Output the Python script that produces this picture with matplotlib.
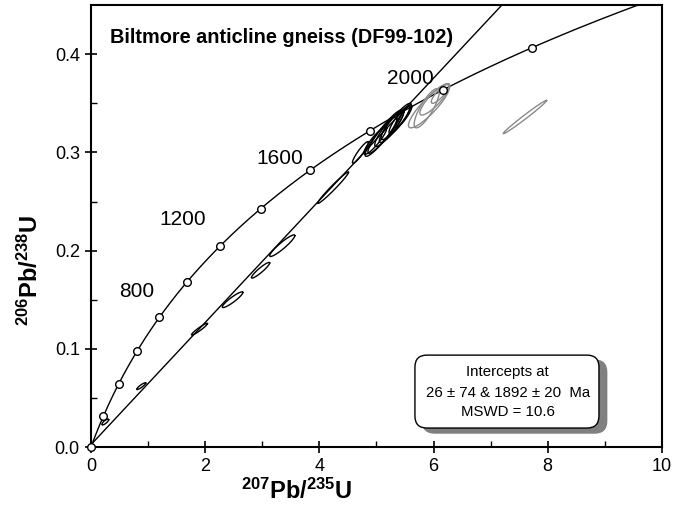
# U-Pb concordia plot, Biltmore anticline gneiss

import numpy as np
import matplotlib
matplotlib.use('Agg')
import matplotlib.pyplot as plt
from matplotlib.patches import FancyBboxPatch

plt.rcParams['font.family'] = ['Liberation Sans', 'DejaVu Sans']
plt.rcParams['mathtext.fontset'] = 'custom'
plt.rcParams['mathtext.rm'] = 'Liberation Sans'
plt.rcParams['mathtext.bf'] = 'Liberation Sans:bold'

#### data ####
# decay constants (1/yr)
lambda_238 = 1.55125e-10
lambda_235 = 9.8485e-10

# concordia age markers (Ma) and the labelled ones
marker_ages = [0, 200, 400, 600, 800, 1000, 1200, 1400, 1600, 1800, 2000, 2200]
label_ages = ['800', '1200', '1600', '2000']
label_x = [0.80, 1.60, 3.30, 5.60]
label_y = [0.158, 0.232, 0.294, 0.375]

# discordia intercepts (Ma)
lower_intercept = 26
upper_intercept = 1892

# black error ellipses: centre x, centre y, sigma x, sigma y, correlation
black_x = [0.25, 0.88, 1.90, 2.48, 2.97, 3.35, 4.24, 4.72, 4.98, 5.08, 5.15, 5.22, 5.28, 5.33, 5.40, 5.48]
black_y = [0.0255, 0.062, 0.120, 0.150, 0.180, 0.205, 0.264, 0.300, 0.312, 0.316, 0.321, 0.324, 0.328, 0.330, 0.333, 0.337]
black_sx = [0.06, 0.08, 0.14, 0.18, 0.16, 0.22, 0.27, 0.14, 0.20, 0.28, 0.30, 0.25, 0.20, 0.28, 0.18, 0.14]
black_sy = [0.003, 0.0035, 0.006, 0.008, 0.008, 0.011, 0.016, 0.011, 0.014, 0.020, 0.022, 0.018, 0.015, 0.020, 0.014, 0.011]
black_rho = [0.8, 0.9, 0.95, 0.92, 0.93, 0.93, 0.98, 0.92, 0.90, 0.92, 0.93, 0.90, 0.88, 0.92, 0.88, 0.88]

# grey error ellipses
grey_x = [5.92, 6.02, 5.88, 6.12, 7.60]
grey_y = [0.347, 0.354, 0.345, 0.360, 0.336]
grey_sx = [0.36, 0.26, 0.22, 0.16, 0.38]
grey_sy = [0.022, 0.016, 0.020, 0.010, 0.017]
grey_rho = [0.88, 0.86, 0.82, 0.85, 0.99]


#### helpers ####
def concordia(age_ma):
    t = np.asarray(age_ma, dtype=float) * 1e6
    return np.exp(lambda_235 * t) - 1, np.exp(lambda_238 * t) - 1


def draw_ellipses(ax, xs, ys, sxs, sys_, rhos, color):
    theta = np.linspace(0, 2 * np.pi, 200)
    for cx, cy, sx, sy, rho in zip(xs, ys, sxs, sys_, rhos):
        ex = cx + sx * np.cos(theta)
        ey = cy + sy * (rho * np.cos(theta) + np.sqrt(1 - rho ** 2) * np.sin(theta))
        ax.plot(ex, ey, color=color, lw=1.0, zorder=3)


#### plot ####
fig = plt.figure(figsize=(6.81, 5.08), dpi=100)
ax = fig.add_axes([0.1336, 0.120, 0.8384, 0.870])

# concordia curve
cx, cy = concordia(np.linspace(0, 2600, 600))
ax.plot(cx, cy, color='black', lw=1.0, zorder=2)

# discordia line
x1, y1 = concordia(lower_intercept)
x2, y2 = concordia(upper_intercept)
slope = (y2 - y1) / (x2 - x1)
dx = np.array([x1, 9.0])
ax.plot(dx, y1 + slope * (dx - x1), color='black', lw=1.0, zorder=2)

# ellipses
draw_ellipses(ax, grey_x, grey_y, grey_sx, grey_sy, grey_rho, '#8a8a8a')
draw_ellipses(ax, black_x, black_y, black_sx, black_sy, black_rho, 'black')

# age markers
mx, my = concordia(marker_ages)
ax.plot(mx, my, 'o', ms=5.5, mfc='white', mec='black', mew=1.0, zorder=5, clip_on=False)

for lab, lx, ly in zip(label_ages, label_x, label_y):
    ax.text(lx, ly, lab, fontsize=15, ha='center', va='center')

# title
ax.text(0.33, 0.417, 'Biltmore anticline gneiss (DF99-102)', fontsize=14.3,
        fontweight='bold', ha='left', va='center')

# intercept box with shadow
ax.add_patch(FancyBboxPatch((0.5674 + 0.0135, 0.043 - 0.0113), 0.3223, 0.165,
                            boxstyle='round,pad=0,rounding_size=0.021', mutation_aspect=1.292,
                            transform=ax.transAxes, fc='#808080', ec='#808080', zorder=6))
ax.add_patch(FancyBboxPatch((0.5674, 0.043), 0.3223, 0.165,
                            boxstyle='round,pad=0,rounding_size=0.021', mutation_aspect=1.292,
                            transform=ax.transAxes, fc='white', ec='black', lw=1.0, zorder=7))
box_lines = ['Intercepts at', '26 \u00b1 74 & 1892 \u00b1 20  Ma', 'MSWD = 10.6']
box_y = [0.0764, 0.055, 0.0356]
for line, yy in zip(box_lines, box_y):
    ax.text(7.30, yy, line, fontsize=10.8, ha='center', va='center', zorder=8)

# axes
ax.set_xlim(0, 10)
ax.set_ylim(0, 0.45)
ax.set_xticks([0, 2, 4, 6, 8, 10])
ax.set_xticks([1, 3, 5, 7, 9], minor=True)
ax.set_yticks([0.0, 0.1, 0.2, 0.3, 0.4])
ax.set_yticks([0.05, 0.15, 0.25, 0.35], minor=True)
ax.set_yticklabels(['0.0', '0.1', '0.2', '0.3', '0.4'])
ax.tick_params(which='major', direction='inout', length=9, width=1.2, labelsize=13)
ax.tick_params(which='minor', direction='in', length=4, width=1.0)
for s in ax.spines.values():
    s.set_linewidth(1.5)

ax.set_xlabel(r'$\mathbf{^{207}Pb/^{235}U}$', fontsize=17)
ax.xaxis.set_label_coords(0.36, -0.072)
ax.set_ylabel(r'$\mathbf{^{206}Pb/^{238}U}$', fontsize=17)
ax.yaxis.set_label_coords(-0.085, 0.40)

# save
fig.savefig('out.png', dpi=100)
